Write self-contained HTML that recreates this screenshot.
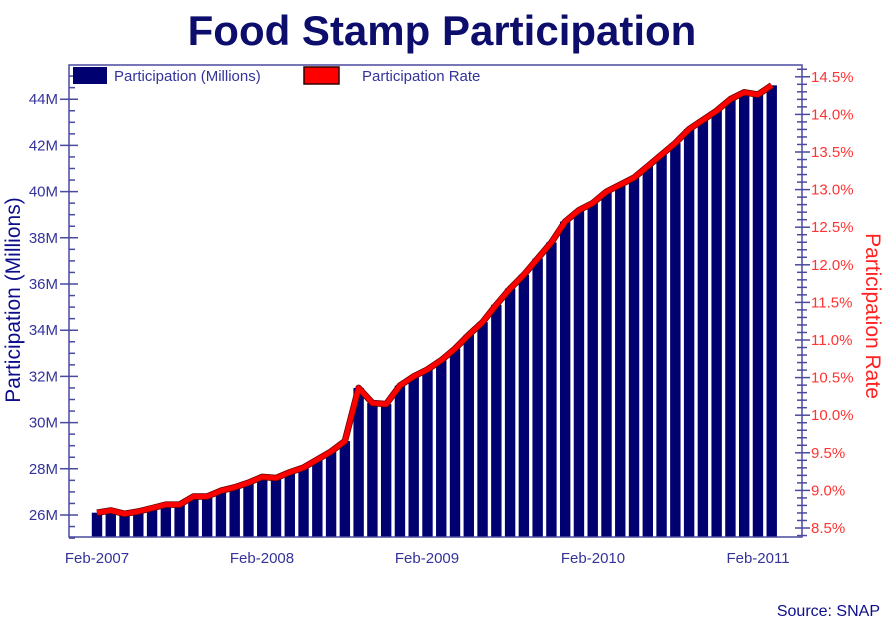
<!DOCTYPE html>
<html><head><meta charset="utf-8"><style>
body{margin:0;background:#fff;}
svg{display:block;font-family:"Liberation Sans",sans-serif;}
</style></head><body>
<svg width="886" height="627" viewBox="0 0 886 627" xmlns="http://www.w3.org/2000/svg">
<rect width="886" height="627" fill="#fff"/>
<text x="442" y="45" text-anchor="middle" font-size="42" font-weight="bold" fill="#0d0d6b">Food Stamp Participation</text>
<g id="bars" fill="#000070"></g>
<polyline id="line2" fill="none" stroke="#660000" stroke-width="6.5" stroke-linejoin="round"/>
<polyline id="line" fill="none" stroke="#ff0000" stroke-width="5" stroke-linejoin="round"/>
<rect x="69" y="65" width="733" height="472" fill="none" stroke="#4a4aa0" stroke-width="1.5"/>
<g id="lt" stroke="#4a4aa0" stroke-width="1.5"></g>
<g id="rt" stroke="#4a4aa0" stroke-width="1.5"></g>
<g font-size="15" fill="#33339a" text-anchor="end" id="ll"></g>
<g font-size="15" fill="#ff3333" id="rl"></g>
<g font-size="15" fill="#33339a" text-anchor="middle">
<text x="97" y="563">Feb-2007</text><text x="262" y="563">Feb-2008</text><text x="427" y="563">Feb-2009</text><text x="593" y="563">Feb-2010</text><text x="758" y="563">Feb-2011</text>
</g>
<text transform="translate(20,300) rotate(-90)" text-anchor="middle" font-size="21" fill="#0d0d8b">Participation (Millions)</text>
<text transform="translate(866,316) rotate(90)" text-anchor="middle" font-size="21" fill="#ff2222">Participation Rate</text>
<text x="880" y="616" text-anchor="end" font-size="16" fill="#0d0d8b">Source: SNAP</text>
<rect x="73" y="67" width="34" height="17" fill="#000070"/>
<text x="114" y="81" font-size="15" fill="#33339a">Participation (Millions)</text>
<rect x="304" y="67" width="35" height="17" fill="#ff0000" stroke="#330000" stroke-width="1.5"/>
<text x="362" y="81" font-size="15" fill="#33339a">Participation Rate</text>
</svg>
<script>
var v=[26.1,26.2,26.05,26.15,26.3,26.45,26.45,26.8,26.8,27.05,27.2,27.4,27.65,27.6,27.85,28.05,28.4,28.75,29.2,31.5,30.85,30.8,31.6,32.0,32.3,32.7,33.2,33.8,34.35,35.1,35.8,36.4,37.1,37.8,38.7,39.2,39.5,40.0,40.3,40.6,41.1,41.6,42.1,42.7,43.1,43.5,44.0,44.3,44.2,44.6];
var ns="http://www.w3.org/2000/svg";
function el(t,a,p){var e=document.createElementNS(ns,t);for(var k in a)e.setAttribute(k,a[k]);document.getElementById(p).appendChild(e);return e;}
function Y(x){return 515-(x-26)*23.1;}
var pts=[];
v.forEach(function(d,i){var cx=97+i*13.77,y=Y(d);el('rect',{x:cx-5.2,y:y,width:10.4,height:537-y},'bars');pts.push(cx.toFixed(1)+','+y.toFixed(1));});
document.getElementById('line').setAttribute('points',pts.join(' '));
document.getElementById('line2').setAttribute('points',pts.join(' '));
for(var m=25;m<=45;m+=0.5){var y=Y(m);if(y<66)continue;var maj=(m%2==0);el('line',{x1:maj?60:69,x2:maj?78:75,y1:y,y2:y},'lt');if(maj){var t=el('text',{x:58,y:y+5},'ll');t.textContent=m+'M';}}
for(var k=0;k<=66;k++){var p=8.4+k*0.1;var y=528-(p-8.5)*75.2;if(y>537||y<66)continue;var maj=(Math.round(p*10)%5==0);el('line',{x1:maj?795:797,x2:maj?810:807,y1:y,y2:y},'rt');if(maj){var t=el('text',{x:811,y:y+5},'rl');t.textContent=p.toFixed(1)+'%';}}
</script>
</body></html>
